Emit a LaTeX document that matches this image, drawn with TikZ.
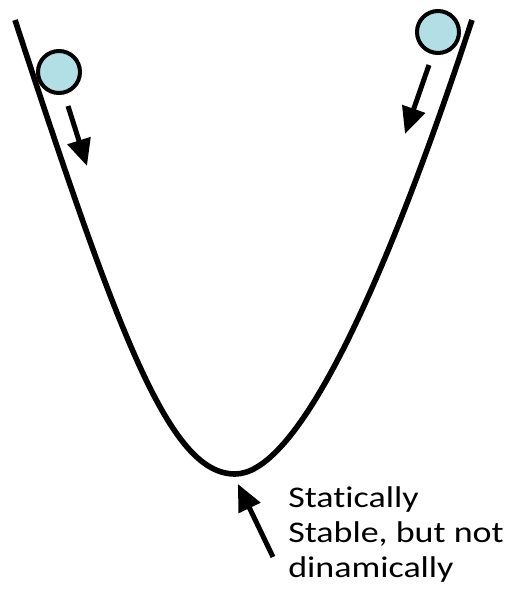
\documentclass[tikz,border=0pt]{standalone}
\usepackage{fontspec}
\setmainfont{Carlito}
\newfontfamily\labelfont[FakeStretch=1.2, Ligatures=CommonOff]{Carlito}
\usetikzlibrary{arrows.meta, positioning}
\definecolor{ballblue}{RGB}{178,222,229}

\begin{document}
\begin{tikzpicture}[x=0.75pt, y=-0.75pt,
    ball/.style={circle, draw, line width=3pt, fill=ballblue, minimum size=31.5pt, inner sep=0pt},
    push/.style={-{Triangle[length=20pt, width=17.5pt]}, line width=3.75pt}]
    \useasboundingbox (0,0) rectangle (507,601);
    % the valley
    \draw [line width=4.2pt] (15,20) .. controls (120,340) and (170,474) .. (235,474)
        coordinate (bottom) .. controls (290,474) and (370,330) .. (472,20);
    \node (leftball) [ball] at (59,72) {};
    \node (rightball) [ball] at (438,32) {};
    \coordinate (leftstart) at (68,106);
    \coordinate (leftend) at (87,166);
    \coordinate (rightstart) at (429,65);
    \coordinate (rightend) at (405,134);
    \coordinate (tail) at (273,557);
    \coordinate (tip) at (238,484);
    \node (label) [anchor=base west, align=left, inner sep=0pt, font=\labelfont\fontsize{22.5}{26.25}\selectfont] at (288,577)
        {Statically\\Stable, but not\\dinamically};

    \draw [push] (leftstart) -- (leftend);
    \draw [push] (rightstart) -- (rightend);
    \draw [push] (tail) -- (tip);
\end{tikzpicture}
\end{document}
